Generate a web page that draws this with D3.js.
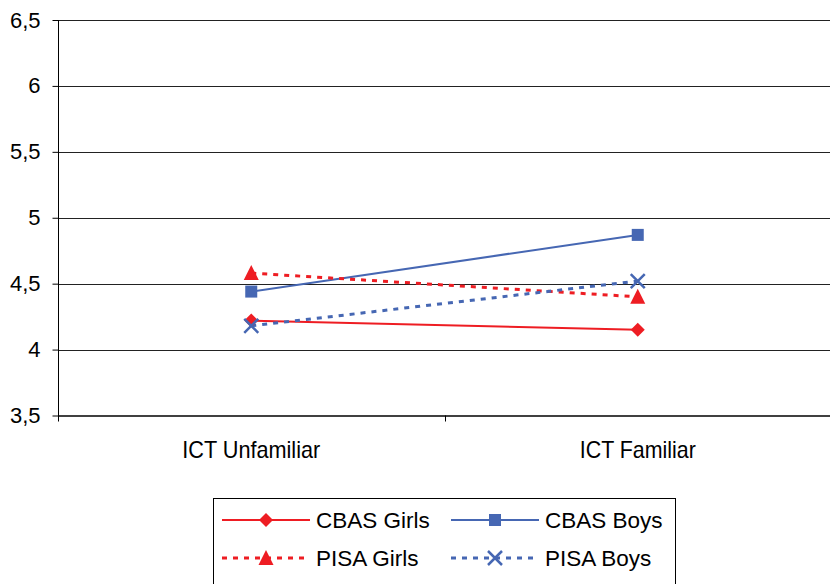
<!DOCTYPE html>
<html>
<head>
<meta charset="utf-8">
<script src="https://cdn.jsdelivr.net/npm/d3@7"></script>
<style>
	body { margin: 0; background: #fff; }
	svg { display: block; font-family: "Liberation Sans", Arial, sans-serif; }
</style>
</head>
<body>
<div id="chart"></div>
<script>
// ---------- DATA ----------
const categories = ["ICT Unfamiliar", "ICT Familiar"];
const yTicks = [3.5, 4, 4.5, 5, 5.5, 6, 6.5];

const seriesNames = ["CBAS Girls", "CBAS Boys", "PISA Girls", "PISA Boys"];
const cbasGirls = [4.22, 4.15];
const cbasBoys = [4.44, 4.87];
const pisaGirls = [4.58, 4.40];
const pisaBoys = [4.18, 4.52];

const colorDef = {
	red: "#ee1d23",
	blue: "#4667b3",
};

const series = [
	{ name: seriesNames[0], values: cbasGirls, color: colorDef.red, dash: null, marker: "diamond" },
	{ name: seriesNames[1], values: cbasBoys, color: colorDef.blue, dash: null, marker: "square" },
	{ name: seriesNames[2], values: pisaGirls, color: colorDef.red, dash: "5,6", marker: "triangle" },
	{ name: seriesNames[3], values: pisaBoys, color: colorDef.blue, dash: "5,6", marker: "cross" },
];

const size = { w: 830, h: 584 };
const plot = { left: 58, right: 831, top: 20, bottom: 415.5 };

const svg = d3
	.select("#chart")
	.append("svg")
	.attr("width", size.w)
	.attr("height", size.h);

const xScale = d3.scaleBand().domain(categories).range([plot.left, plot.right]);
const yScale = d3.scaleLinear().domain([3.5, 6.5]).range([plot.bottom, plot.top]);

const locale = d3.formatLocale({ decimal: ",", thousands: ".", grouping: [3], currency: ["", ""] });
const fmt = locale.format(".1~f");

// gridlines
svg
	.append("g")
	.selectAll("line")
	.data(yTicks.slice(1))
	.join("line")
	.attr("x1", plot.left)
	.attr("x2", plot.right)
	.attr("y1", (d) => Math.round(yScale(d)) + 0.5)
	.attr("y2", (d) => Math.round(yScale(d)) + 0.5)
	.attr("stroke", "#222")
	.attr("stroke-width", 1);

// y axis
const yAxis = svg
	.append("g")
	.attr("transform", `translate(${plot.left + 0.5},0)`)
	.call(d3.axisLeft(yScale).tickValues(yTicks).tickSize(6).tickPadding(12).tickFormat(fmt));
yAxis.select(".domain").attr("stroke", "#000").attr("d", `M0,${plot.top}V${plot.bottom + 6}`);
yAxis.selectAll(".tick line").attr("stroke", "#000");
yAxis
	.selectAll(".tick text")
	.attr("fill", "#000")
	.style("font-size", "22px")
	.style("font-family", "Liberation Sans, Arial, sans-serif");

// x axis
const xAxis = svg.append("g").attr("transform", `translate(0,${plot.bottom})`);
xAxis
	.append("line")
	.attr("x1", plot.left)
	.attr("x2", plot.right)
	.attr("y1", 0.5)
	.attr("y2", 0.5)
	.attr("stroke", "#000")
	.attr("stroke-width", 1.5);
xAxis
	.selectAll(".xtick")
	.data(categories.slice(1))
	.join("line")
	.attr("class", "xtick")
	.attr("x1", (d) => Math.round(xScale(d)) + 0.5)
	.attr("x2", (d) => Math.round(xScale(d)) + 0.5)
	.attr("y1", 0)
	.attr("y2", 6)
	.attr("stroke", "#000");
xAxis
	.selectAll(".xlabel")
	.data(categories)
	.join("text")
	.attr("class", "xlabel")
	.attr("x", (d) => xScale(d) + xScale.bandwidth() / 2)
	.attr("y", 458 - plot.bottom)
	.attr("text-anchor", "middle")
	.attr("fill", "#000")
	.style("font-size", "24px")
	.attr("textLength", (d) => (d === categories[0] ? 138 : 116))
	.attr("lengthAdjust", "spacingAndGlyphs")
	.text((d) => d);

// markers
function drawMarker(g, type, color, cx, cy) {
	if (type === "diamond") {
		g.append("path")
			.attr("d", `M${cx},${cy - 7}L${cx + 7},${cy}L${cx},${cy + 7}L${cx - 7},${cy}Z`)
			.attr("fill", color);
	} else if (type === "square") {
		g.append("rect")
			.attr("x", cx - 6)
			.attr("y", cy - 6)
			.attr("width", 12)
			.attr("height", 12)
			.attr("fill", color);
	} else if (type === "triangle") {
		g.append("path")
			.attr("d", `M${cx},${cy - 8}L${cx + 7.5},${cy + 7}L${cx - 7.5},${cy + 7}Z`)
			.attr("fill", color);
	} else if (type === "cross") {
		g.append("path")
			.attr("d", `M${cx - 7},${cy - 7}L${cx + 7},${cy + 7}M${cx - 7},${cy + 7}L${cx + 7},${cy - 7}`)
			.attr("stroke", color)
			.attr("stroke-width", 2.5)
			.attr("fill", "none");
	}
}

const cx = (i) => xScale(categories[i]) + xScale.bandwidth() / 2;
const line = d3
	.line()
	.x((d, i) => cx(i))
	.y((d) => yScale(d));

const lines = svg.append("g");
series.forEach((s) => {
	lines
		.append("path")
		.attr("d", line(s.values))
		.attr("fill", "none")
		.attr("stroke", s.color)
		.attr("stroke-width", s.dash ? 3 : 2)
		.attr("stroke-dasharray", s.dash);
});
const marks = svg.append("g");
series.forEach((s) => {
	s.values.forEach((v, i) => drawMarker(marks, s.marker, s.color, cx(i), yScale(v)));
});

// legend
const legend = svg.append("g");
legend
	.append("rect")
	.attr("x", 213.5)
	.attr("y", 498.5)
	.attr("width", 462)
	.attr("height", 100)
	.attr("fill", "#fff")
	.attr("stroke", "#000")
	.attr("stroke-width", 1);

const legendPos = [
	{ x: 222, y: 520 },
	{ x: 451, y: 520 },
	{ x: 222, y: 558 },
	{ x: 451, y: 558 },
];
series.forEach((s, i) => {
	const p = legendPos[i];
	const g = legend.append("g");
	g.append("line")
		.attr("x1", p.x)
		.attr("x2", p.x + 88)
		.attr("y1", p.y)
		.attr("y2", p.y)
		.attr("stroke", s.color)
		.attr("stroke-width", s.dash ? 3 : 2)
		.attr("stroke-dasharray", s.dash);
	drawMarker(g, s.marker, s.color, p.x + 44, p.y);
	g.append("text")
		.attr("x", p.x + 94)
		.attr("y", p.y + 8)
		.attr("fill", "#000")
		.style("font-size", "22.5px")
		.text(s.name);
});
</script>
</body>
</html>
